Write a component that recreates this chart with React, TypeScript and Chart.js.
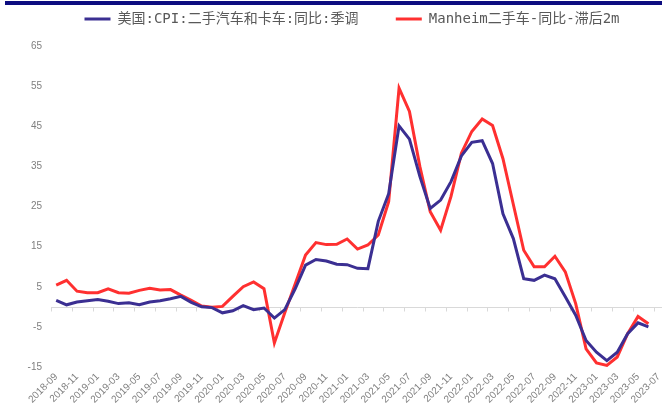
import { useEffect, useRef } from 'react';
import { Chart, registerables } from 'chart.js';

Chart.register(...registerables);

const months = [
  '2018-09', '2018-10', '2018-11', '2018-12',
  '2019-01', '2019-02', '2019-03', '2019-04', '2019-05', '2019-06', '2019-07', '2019-08', '2019-09', '2019-10', '2019-11', '2019-12',
  '2020-01', '2020-02', '2020-03', '2020-04', '2020-05', '2020-06', '2020-07', '2020-08', '2020-09', '2020-10', '2020-11', '2020-12',
  '2021-01', '2021-02', '2021-03', '2021-04', '2021-05', '2021-06', '2021-07', '2021-08', '2021-09', '2021-10', '2021-11', '2021-12',
  '2022-01', '2022-02', '2022-03', '2022-04', '2022-05', '2022-06', '2022-07', '2022-08', '2022-09', '2022-10', '2022-11', '2022-12',
  '2023-01', '2023-02', '2023-03', '2023-04', '2023-05', '2023-06', '2023-07',
];

const cpiUsedCarsYoY = [
  1.6, 0.5, 1.2, 1.5,
  1.8, 1.4, 0.8, 1.0, 0.5, 1.2, 1.5, 2.0, 2.6, 1.1, 0.0, -0.2,
  -1.5, -1.0, 0.3, -0.7, -0.3, -2.8, -0.7, 4.5, 10.4, 11.8, 11.4, 10.6,
  10.5, 9.6, 9.5, 21.3, 28.2, 45.1, 41.8, 32.5, 24.5, 26.6, 31.2, 37.6,
  41.0, 41.4, 35.7, 23.2, 17.0, 7.0, 6.6, 7.9, 7.0, 2.5, -2.1, -8.4,
  -11.3, -13.4, -11.3, -6.7, -4.0, -5.0, null,
];

const manheimLag2mYoY = [
  5.4, 6.6, 3.9, 3.5,
  3.5, 4.5, 3.5, 3.4, 4.1, 4.6, 4.2, 4.3, 2.9, 1.6, 0.2, -0.1,
  0.1, 2.6, 5.0, 6.2, 4.5, -9.0, -1.5, 5.7, 12.9, 16.0, 15.5, 15.6,
  16.9, 14.4, 15.4, 17.9, 26.2, 54.5, 48.7, 35.0, 23.7, 19.1, 27.5, 38.3,
  43.7, 46.8, 45.2, 36.9, 25.5, 14.1, 10.0, 10.0, 12.6, 8.7, 0.8, -10.5,
  -14.0, -14.6, -12.5, -6.7, -2.4, -4.2, null,
];

const seriesNames = ['美国:CPI:二手汽车和卡车:同比:季调', 'Manheim二手车-同比-滞后2m'];
const seriesColors = ['#3b2f92', '#ff3030'];

const axisFont = { family: '"Liberation Sans", Arial, sans-serif', size: 10 };
const axisColor = '#7f7f7f';

export default function App() {
  const ref = useRef<HTMLCanvasElement>(null);

  useEffect(() => {
    document.body.style.margin = '0';
    if (!ref.current) return;

    const legendTweak = {
      id: 'legendTweak',
      beforeInit(chart: any) {
        const legend = chart.legend;
        if (!legend) return;
        const orig = legend.fit;
        legend.fit = function () {
          orig.call(this);
          this.height += 10;
        };
      },
      afterLayout(chart: any) {
        if (chart.legend) chart.legend.left = 40;
      },
    };

    const zeroLine = {
      id: 'zeroLine',
      beforeDatasetsDraw(chart: any) {
        const { ctx, chartArea, scales } = chart;
        const x = scales.x;
        const y = scales.y;
        const y0 = Math.round(y.getPixelForValue(0)) + 0.5;
        const half = (x.getPixelForValue(1) - x.getPixelForValue(0)) / 2;
        ctx.save();
        ctx.strokeStyle = '#d9d9d9';
        ctx.lineWidth = 1;
        ctx.beginPath();
        ctx.moveTo(chartArea.left, y0);
        ctx.lineTo(chartArea.right, y0);
        for (let i = 0; i < months.length; i += 2) {
          const px = Math.round(x.getPixelForValue(i) - half) + 0.5;
          ctx.moveTo(px, y0);
          ctx.lineTo(px, y0 + 4);
        }
        ctx.stroke();
        ctx.restore();
      },
    };

    const chart = new Chart(ref.current, {
      type: 'line',
      data: {
        labels: months,
        datasets: [
          {
            label: seriesNames[0],
            data: cpiUsedCarsYoY,
            borderColor: seriesColors[0],
            backgroundColor: seriesColors[0],
            borderWidth: 3,
            pointRadius: 0,
            tension: 0,
          },
          {
            label: seriesNames[1],
            data: manheimLag2mYoY,
            borderColor: seriesColors[1],
            backgroundColor: seriesColors[1],
            borderWidth: 3,
            pointRadius: 0,
            tension: 0,
          },
        ],
      },
      options: {
        responsive: false,
        animation: false,
        devicePixelRatio: 1,
        layout: { padding: { left: 0, right: 0, top: 0, bottom: 0 } },
        plugins: {
          tooltip: { enabled: false },
          legend: {
            position: 'top',
            labels: {
              boxWidth: 26,
              boxHeight: 3,
              padding: 12,
              color: '#595959',
              font: { family: '"DejaVu Sans Mono", "Noto Sans CJK SC", monospace', size: 14 },
              generateLabels: (c: any) =>
                (Chart.defaults.plugins.legend.labels.generateLabels as any)(c).map((l: any, i: number) => ({
                  ...l,
                  lineWidth: 0,
                  fillStyle: seriesColors[i],
                  text: i === 0 ? l.text + '   ' : l.text,
                })),
            },
          },
        },
        scales: {
          x: {
            offset: true,
            grid: { display: false, drawTicks: false },
            border: { display: false },
            ticks: {
              autoSkip: false,
              maxRotation: 45,
              minRotation: 45,
              padding: 4,
              color: axisColor,
              font: axisFont,
              callback: (_v: any, i: number) => (i % 2 === 0 ? months[i] : ''),
            },
            afterFit: (s: any) => {
              s.height = 43;
              s.paddingLeft = 0;
              s.paddingRight = 0;
            },
          },
          y: {
            min: -15,
            max: 65,
            grid: { display: false, drawTicks: false },
            border: { display: false },
            ticks: { stepSize: 10, padding: 9, color: axisColor, font: axisFont },
            afterFit: (s: any) => {
              s.width = 51;
            },
          },
        },
      } as any,
      plugins: [legendTweak, zeroLine],
    });

    return () => chart.destroy();
  }, []);

  return (
    <div style={{ position: 'relative', width: 662, height: 410, overflow: 'hidden', background: '#fff' }}>
      <canvas ref={ref} width={664} height={410} style={{ display: 'block', width: 664, height: 410 }} />
      <div style={{ position: 'absolute', left: 5, top: 1, width: 657, height: 4, background: '#0d0d80' }} />
    </div>
  );
}
